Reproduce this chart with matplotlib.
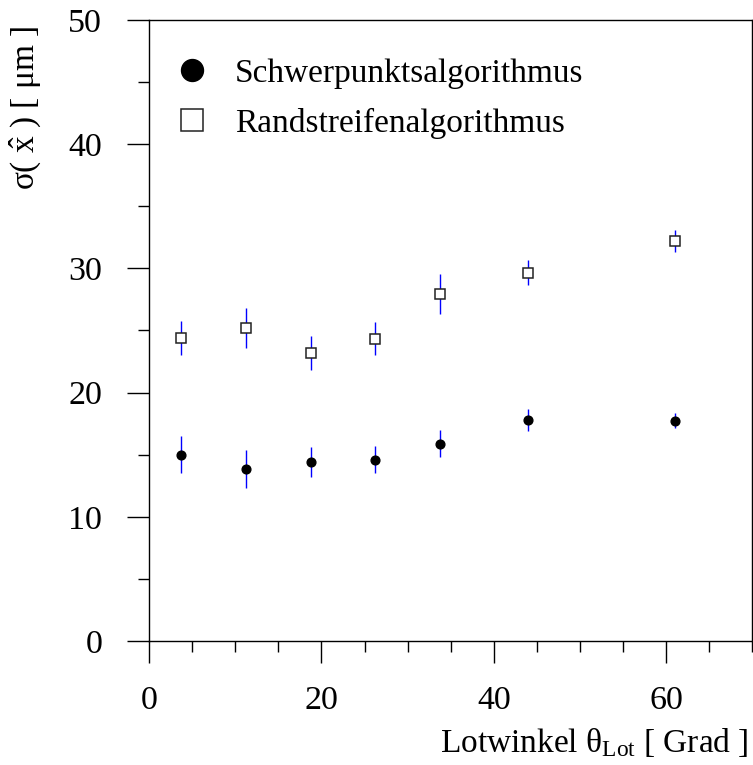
import matplotlib
matplotlib.use("Agg")
import matplotlib.pyplot as plt
from matplotlib.ticker import MultipleLocator

plt.rcParams["font.family"] = ["Liberation Serif", "DejaVu Serif"]
plt.rcParams["mathtext.fontset"] = "custom"
plt.rcParams["mathtext.rm"] = "Liberation Serif"
plt.rcParams["mathtext.it"] = "Liberation Serif:italic"

# Lotwinkel in Grad
winkel = [3.75, 11.25, 18.75, 26.25, 33.75, 44.0, 61.0]

# Schwerpunktsalgorithmus
sigma_sp = [15.0, 13.85, 14.4, 14.6, 15.9, 17.8, 17.75]
fehler_sp = [1.5, 1.5, 1.2, 1.1, 1.05, 0.87, 0.6]

# Randstreifenalgorithmus
sigma_rs = [24.4, 25.2, 23.2, 24.35, 27.95, 29.65, 32.2]
fehler_rs = [1.35, 1.6, 1.35, 1.35, 1.6, 1.0, 0.85]

labels = ["Schwerpunktsalgorithmus", "Randstreifenalgorithmus"]

fig = plt.figure(figsize=(7.53, 7.65), dpi=100)
ax = fig.add_axes([0.198, 0.162, 0.801, 0.812])

# Fehlerbalken (blau, ohne Kappen)
ax.errorbar(winkel, sigma_sp, yerr=fehler_sp, fmt="none", ecolor="blue",
            elinewidth=1.0, capsize=0, zorder=2)
ax.errorbar(winkel, sigma_rs, yerr=fehler_rs, fmt="none", ecolor="blue",
            elinewidth=1.0, capsize=0, zorder=2)

# Messpunkte
ax.plot(winkel, sigma_sp, "o", color="black", ms=6.3, ls="none",
        zorder=3, label=labels[0])
ax.plot(winkel, sigma_rs, "s", mfc="white", mec="#222222", mew=1.1, ms=7.2,
        ls="none", zorder=3, label=labels[1])

ax.set_xlim(0, 70)
ax.set_ylim(0, 50)
ax.xaxis.set_major_locator(MultipleLocator(20))
ax.xaxis.set_minor_locator(MultipleLocator(5))
ax.yaxis.set_major_locator(MultipleLocator(10))
ax.yaxis.set_minor_locator(MultipleLocator(5))

ax.tick_params(which="major", direction="out", length=15.8, width=1.0,
               labelsize=24.5, top=False, right=False)
ax.tick_params(which="minor", direction="out", length=7.9, width=1.0,
               top=False, right=False)
ax.tick_params(axis="x", which="major", pad=16)
ax.tick_params(axis="y", which="major", pad=18)

for s in ax.spines.values():
    s.set_linewidth(1.0)
    s.set_color("black")

ax.set_xlabel(r"Lotwinkel θ$_{\mathrm{Lot}}$ [ Grad ]", fontsize=24, loc="right")
ax.xaxis.set_label_coords(0.993, -0.136)
ax.set_ylabel(r"σ( $\hat{\mathrm{x}}$ ) [ μm ]", fontsize=24, loc="top")
ax.yaxis.set_label_coords(-0.176, 0.99)

leg = ax.legend(loc="upper left", bbox_to_anchor=(0.043, 0.938), frameon=False,
                fontsize=24, handlelength=1.0, handletextpad=0.8,
                labelspacing=0.57, borderpad=0, borderaxespad=0)
leg.legend_handles[0].set_markersize(15.8)
leg.legend_handles[1].set_markersize(15.6)

fig.savefig("out.png", dpi=100)
